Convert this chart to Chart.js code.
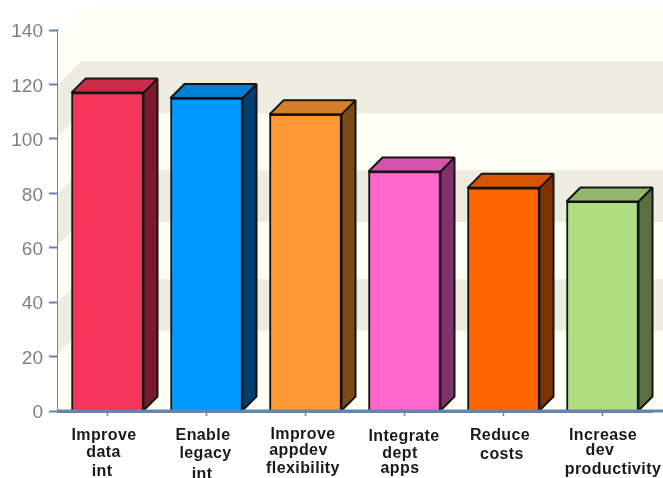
<!DOCTYPE html>
<html>
<head>
<meta charset="utf-8">
<title>Bar chart</title>
<script src="https://cdn.jsdelivr.net/npm/chart.js@4"></script>
<style>
  html, body { margin: 0; padding: 0; background: #fff; }
  canvas { display: block; }
</style>
</head>
<body>
<canvas id="chart" width="663" height="478"></canvas>
<script>
const categories = [
    ['Improve', 'data', 'int'],
    ['Enable', 'legacy', 'int'],
    ['Improve', 'appdev', 'flexibility'],
    ['Integrate', 'dept', 'apps'],
    ['Reduce', 'costs'],
    ['Increase', 'dev', 'productivity']
];
const values = [117, 115, 109, 88, 82, 77];
const frontColors = ['#f5345a', '#0099ff', '#ff9933', '#ff66cc', '#ff6600', '#b0dd80'];
const topColors = ['#cc2c4a', '#0080d5', '#d67f2b', '#d454ab', '#d65500', '#93b86b'];
const sideColors = ['#7c1a2d', '#003f6e', '#7c4a18', '#80336a', '#7f3300', '#5b7040'];
const bandRanges = [[101, 120], [61, 80], [21, 40]];

// x shift and baseline drop for each label line, measured from the tick and the baseline
const labelNudges = [
    [[-3.5, 29], [-4, 46], [-5.5, 65]],
    [[-3.5, 29], [-1, 47], [-4.5, 68]],
    [[-2.5, 28], [-7, 44], [-2.5, 62]],
    [[-0.5, 30], [-4.5, 47], [-4.5, 62]],
    [[-3.5, 29], [-1.5, 48]],
    [[0.5, 29], [-2.5, 44], [10.5, 63]]
];

const wallDepth = 23;
const barDepth = 14;
const axisColor = '#6585ad';
const edgeColor = '#141414';

function fillPoly(ctx, pts, fill, stroke) {
    ctx.beginPath();
    pts.forEach((p, i) => i ? ctx.lineTo(p[0], p[1]) : ctx.moveTo(p[0], p[1]));
    ctx.closePath();
    ctx.fillStyle = fill;
    ctx.fill();
    if (stroke) {
        ctx.strokeStyle = stroke;
        ctx.lineWidth = 2;
        ctx.lineJoin = 'bevel';
        ctx.stroke();
    }
}

// 3D walls and the side/top faces of the bars, drawn under the front faces
const depthPlugin = {
    id: 'depth',
    beforeDatasetsDraw(chart) {
        const { ctx, scales, chartArea, width } = chart;
        const left = chartArea.left;
        const bottom = scales.y.getPixelForValue(0);
        const top = scales.y.getPixelForValue(140);
        const back = left + wallDepth;

        ctx.save();
        fillPoly(ctx, [[left, top], [back, top - wallDepth], [width, top - wallDepth], [width, bottom], [left, bottom]], '#fffff5');

        bandRanges.forEach(r => {
            const y1 = scales.y.getPixelForValue(r[1]);
            const y2 = scales.y.getPixelForValue(r[0]);
            fillPoly(ctx, [
                [left, y1], [back, y1 - wallDepth], [width, y1 - wallDepth],
                [width, y2 - wallDepth], [back, y2 - wallDepth], [left, y2]
            ], '#ecece0');
        });

        chart.getDatasetMeta(0).data.forEach((bar, i) => {
            const l = bar.x - bar.width / 2;
            const r = bar.x + bar.width / 2;
            const d = barDepth;
            fillPoly(ctx, [[r, bar.y], [r + d, bar.y - d], [r + d, bar.base - d], [r, bar.base]], sideColors[i], edgeColor);
            fillPoly(ctx, [[l, bar.y], [l + d, bar.y - d], [r + d, bar.y - d], [r, bar.y]], topColors[i], edgeColor);
        });
        ctx.restore();
    },
    afterDatasetsDraw(chart) {
        const { ctx, scales, chartArea, width } = chart;
        const y = scales.y.getPixelForValue(0);
        ctx.save();

        // the baseline runs on to the edge of the canvas
        ctx.strokeStyle = axisColor;
        ctx.lineWidth = 3;
        ctx.beginPath();
        ctx.moveTo(chartArea.left, y);
        ctx.lineTo(width, y);
        ctx.stroke();

        // category labels, line by line
        ctx.fillStyle = '#1a1a1a';
        ctx.font = 'bold 16px "Liberation Sans", Arial, sans-serif';
        ctx.letterSpacing = '0.4px';
        ctx.textAlign = 'center';
        ctx.textBaseline = 'alphabetic';
        categories.forEach((lines, i) => {
            const x = scales.x.getPixelForTick(i);
            lines.forEach((line, j) => {
                ctx.fillText(line, x + labelNudges[i][j][0], y + labelNudges[i][j][1]);
            });
        });
        ctx.restore();
    }
};

new Chart(document.getElementById('chart').getContext('2d'), {
    type: 'bar',
    data: {
        labels: categories,
        datasets: [{
            data: values,
            backgroundColor: frontColors,
            borderColor: edgeColor,
            borderWidth: 2,
            barThickness: 72
        }]
    },
    options: {
        responsive: false,
        animation: false,
        layout: { autoPadding: false, padding: { top: 30, right: 11, left: 0, bottom: 0 } },
        plugins: {
            legend: { display: false },
            tooltip: { enabled: false }
        },
        scales: {
            x: {
                z: 1,
                afterFit(scale) { scale.height = 67; },
                grid: { offset: false, drawOnChartArea: false, tickLength: 5, tickColor: axisColor, tickWidth: 1.5 },
                border: { color: axisColor, width: 3 },
                ticks: { display: false }
            },
            y: {
                z: 1,
                min: 0,
                max: 140,
                afterFit(scale) { scale.width = 58; },
                grid: { drawOnChartArea: false, tickLength: 9, tickColor: axisColor, tickWidth: 2 },
                border: { color: axisColor, width: 2 },
                ticks: {
                    stepSize: 20,
                    padding: 6,
                    labelOffset: 2,
                    color: '#7f7f7f',
                    font: { family: '"Liberation Sans", Arial, sans-serif', size: 19 }
                }
            }
        }
    },
    plugins: [depthPlugin]
});
</script>
</body>
</html>
